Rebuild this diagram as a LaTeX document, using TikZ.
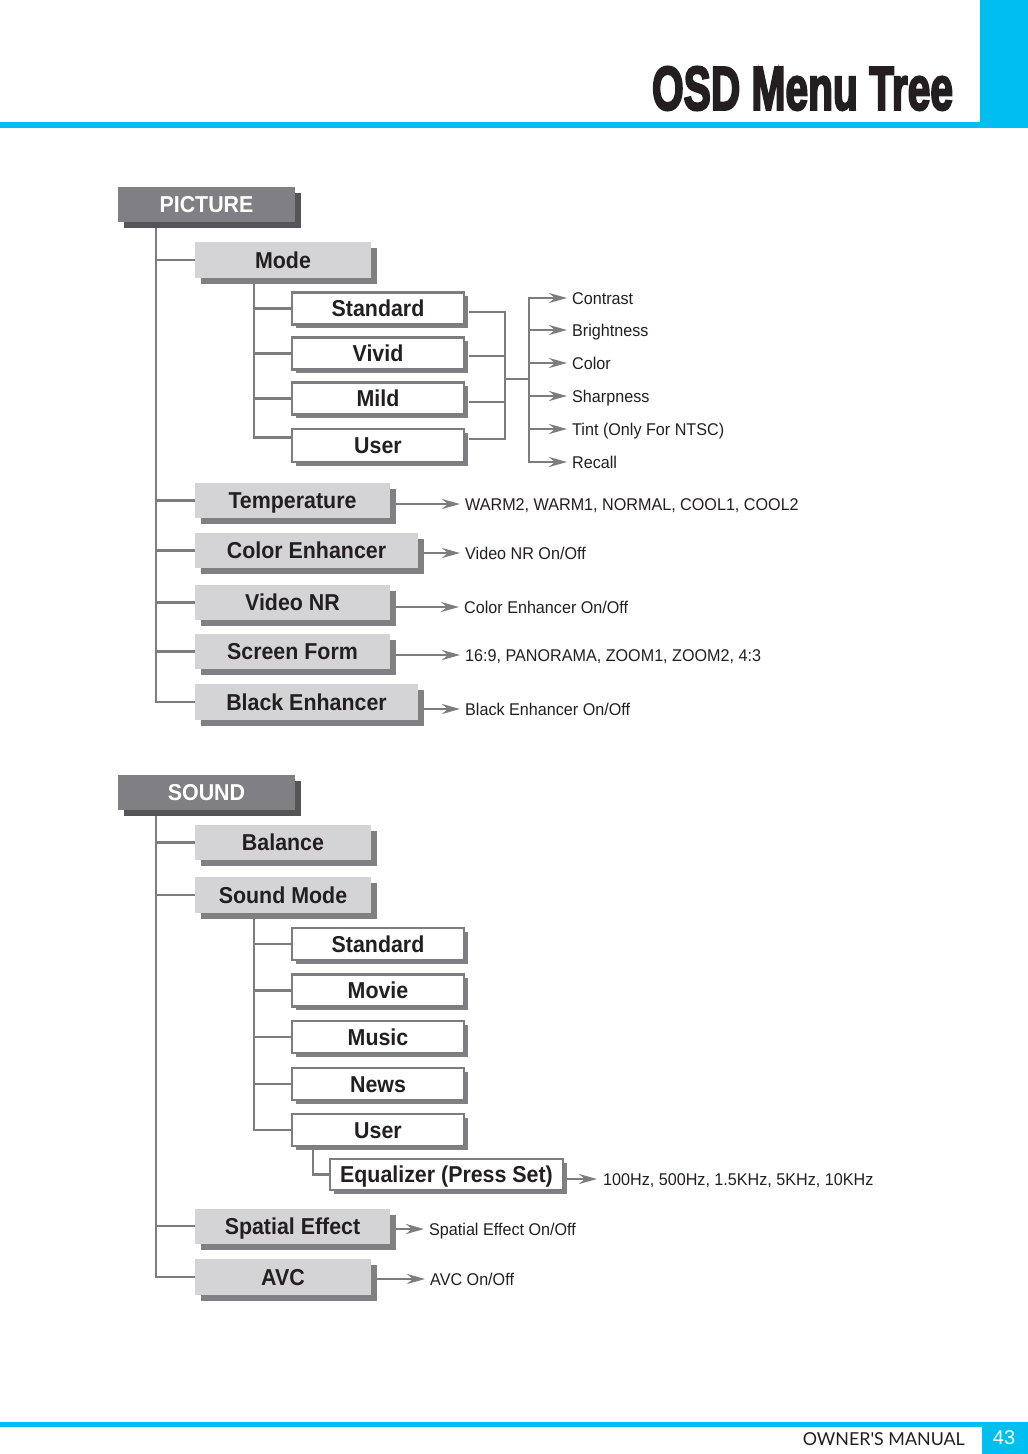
\documentclass[tikz,border=0pt]{standalone}
\usepackage{fontspec}
\setmainfont{Liberation Sans}
\newfontfamily\labf{Liberation Sans}[FakeStretch=0.95]
\newfontfamily\boxf{Liberation Sans}[FakeStretch=0.93]
\newfontfamily\titlef{Liberation Sans Bold}[FakeBold=4]
\newfontfamily\footf{Lato}
\usetikzlibrary{arrows.meta,shadows}
\definecolor{cyanb}{RGB}{0,190,240}
\definecolor{dkbox}{RGB}{128,128,132}
\definecolor{dkshadow}{RGB}{85,85,88}
\definecolor{ltbox}{RGB}{212,212,214}
\definecolor{ltshadow}{RGB}{128,128,130}
\definecolor{linec}{RGB}{125,125,128}
\definecolor{txt}{RGB}{35,31,32}
\tikzset{
  boxtext/.style={font=\boxf\bfseries\fontsize{23}{27}\selectfont, text height=16.5pt, text depth=0pt, inner sep=0pt},
  topbox/.style={boxtext, fill=dkbox, text=white, minimum width=177pt, minimum height=35pt,
    general shadow={fill=dkshadow, shadow xshift=6pt, shadow yshift=-6pt}},
  midbox/.style={boxtext, fill=ltbox, text=txt, minimum height=35pt,
    general shadow={fill=ltshadow, shadow xshift=6pt, shadow yshift=-6pt}},
  subbox/.style={boxtext, fill=white, draw=linec, line width=2.4pt, text=txt, minimum width=172pt, minimum height=32pt,
    general shadow={fill=ltshadow, shadow xshift=3.5pt, shadow yshift=-3.5pt}},
  leaf/.style={anchor=west, inner sep=0pt, text=txt, font=\labf\fontsize{17}{20}\selectfont, text height=12.5pt, text depth=0pt},
  conn/.style={draw=linec, line width=2.7pt},
  arr/.style={conn, shorten >=5pt, -{Stealth[length=18pt, width=10pt, inset=6pt, color=linec]}},
}
\begin{document}
\begin{tikzpicture}[x=1pt,y=-1pt]
\useasboundingbox (0,0) rectangle (1028,1454);
\fill[white] (0,0) rectangle (1028,1454);
% header
\fill[cyanb] (980,0) rectangle (1028,128);
\fill[cyanb] (0,122) rectangle (1028,128);
\node[inner sep=0pt, text=txt] (title) at (802.5,88.5) {\resizebox{301pt}{43pt}{\titlef OSD Menu Tree}};
% footer
\fill[cyanb] (0,1422) rectangle (1028,1427);
\fill[cyanb] (982,1422) rectangle (1028,1454);
\node[text=white, font=\fontsize{20}{22}\selectfont, inner sep=0pt] (pnum) at (1004,1438) {43};
\node[anchor=east, inner sep=0pt, text=txt] (manual) at (965,1439) {\resizebox{162pt}{!}{\footf OWNER'S MANUAL}};

% ===== PICTURE =====
\node[topbox] (picture) at (206.5,204.5) {PICTURE};
\node[midbox, minimum width=176pt, minimum height=36pt] (mode) at (283,260) {Mode};
\node[subbox] (pstd) at (378,308.5) {Standard};
\node[subbox] (pviv) at (378,353.5) {Vivid};
\node[subbox] (pmild) at (378,398.5) {Mild};
\node[subbox, minimum height=33pt] (puser) at (378,445.5) {User};
\node[midbox, minimum width=195pt] (temp) at (292.5,500.5) {Temperature};
\node[midbox, minimum width=223pt] (colenh) at (306.5,550.5) {Color Enhancer};
\node[midbox, minimum width=195pt] (vnr) at (292.5,602.5) {Video NR};
\node[midbox, minimum width=195pt] (sform) at (292.5,651.5) {Screen Form};
\node[midbox, minimum width=223pt, minimum height=36pt] (blk) at (306.5,702) {Black Enhancer};

\coordinate (ptrunk) at (156,228);
\foreach \n in {mode,temp,colenh,vnr,sform,blk} \draw[conn] (ptrunk) |- (\n.west);
\coordinate (mtrunk) at (254,284);
\foreach \n in {pstd,pviv,pmild} \draw[conn] (mtrunk) |- (\n.west);
\draw[conn] (mtrunk) |- ([yshift=8pt]puser.west);

\coordinate (bA) at (505,379);
\coordinate (bB) at (529,379);
\draw[conn] ([shift={(4,3.5)}]pstd.east) -| (bA);
\draw[conn] ([shift={(4,2.5)}]pviv.east) -| (bA);
\draw[conn] ([shift={(4,3.5)}]pmild.east) -| (bA);
\draw[conn] ([shift={(4,-6.5)}]puser.east) -| (bA);
\draw[conn] (bA) -- (bB);

\node[leaf] (lcon) at (572,298) {Contrast};
\node[leaf] (lbri) at (572,330) {Brightness};
\node[leaf] (lcol) at (572,363) {Color};
\node[leaf] (lsha) at (572,396) {Sharpness};
\node[leaf] (ltin) at (572,429) {Tint (Only For NTSC)};
\node[leaf] (lrec) at (572,462) {Recall};
\foreach \n in {lcon,lbri,lcol,lsha,ltin,lrec} \draw[arr] (bB) |- (\n.west);

\node[leaf] (ltemp) at (465,504) {WARM2, WARM1, NORMAL, COOL1, COOL2};
\node[leaf] (lcolenh) at (465,553) {Video NR On/Off};
\node[leaf] (lvnr) at (464,607) {Color Enhancer On/Off};
\node[leaf] (lsform) at (465,655) {16:9, PANORAMA, ZOOM1, ZOOM2, 4:3};
\node[leaf] (lblk) at (465,709) {Black Enhancer On/Off};
\draw[arr] ([xshift=6pt]ltemp.west -| temp.east) -- (ltemp.west);
\draw[arr] ([xshift=6pt]lcolenh.west -| colenh.east) -- (lcolenh.west);
\draw[arr] ([xshift=6pt]lvnr.west -| vnr.east) -- (lvnr.west);
\draw[arr] ([xshift=6pt]lsform.west -| sform.east) -- (lsform.west);
\draw[arr] ([xshift=6pt]lblk.west -| blk.east) -- (lblk.west);

% ===== SOUND =====
\node[topbox] (sound) at (206.5,792.5) {SOUND};
\node[midbox, minimum width=176pt] (balance) at (283,842.5) {Balance};
\node[midbox, minimum width=176pt, minimum height=36pt] (smode) at (283,895) {Sound Mode};
\node[subbox] (sstd) at (378,944) {Standard};
\node[subbox] (smov) at (378,990.5) {Movie};
\node[subbox] (smus) at (378,1037) {Music};
\node[subbox] (snews) at (378,1084) {News};
\node[subbox] (suser) at (378,1130) {User};
\node[subbox, minimum width=233pt, minimum height=31pt] (eq) at (446.5,1174.5) {Equalizer (Press Set)};
\node[midbox, minimum width=195pt] (spatial) at (292.5,1226) {Spatial Effect};
\node[midbox, minimum width=176pt, minimum height=36pt] (avc) at (283,1277) {AVC};

\coordinate (strunk) at (156,816);
\foreach \n in {balance,smode,spatial,avc} \draw[conn] (strunk) |- (\n.west);
\coordinate (smtrunk) at (254,918);
\foreach \n in {sstd,smov,smus,snews,suser} \draw[conn] (smtrunk) |- (\n.west);
\coordinate (eqtrunk) at (313,1150);
\draw[conn] (eqtrunk) |- (eq.west);

\node[leaf] (leq) at (603,1179) {100Hz, 500Hz, 1.5KHz, 5KHz, 10KHz};
\node[leaf] (lspatial) at (429,1229) {Spatial Effect On/Off};
\node[leaf] (lavc) at (430,1279) {AVC On/Off};
\draw[arr, shorten >=6pt] ([xshift=3pt]leq.west -| eq.east) -- (leq.west);
\draw[arr] ([xshift=6pt]lspatial.west -| spatial.east) -- (lspatial.west);
\draw[arr] ([xshift=6pt]lavc.west -| avc.east) -- (lavc.west);
\end{tikzpicture}
\end{document}
